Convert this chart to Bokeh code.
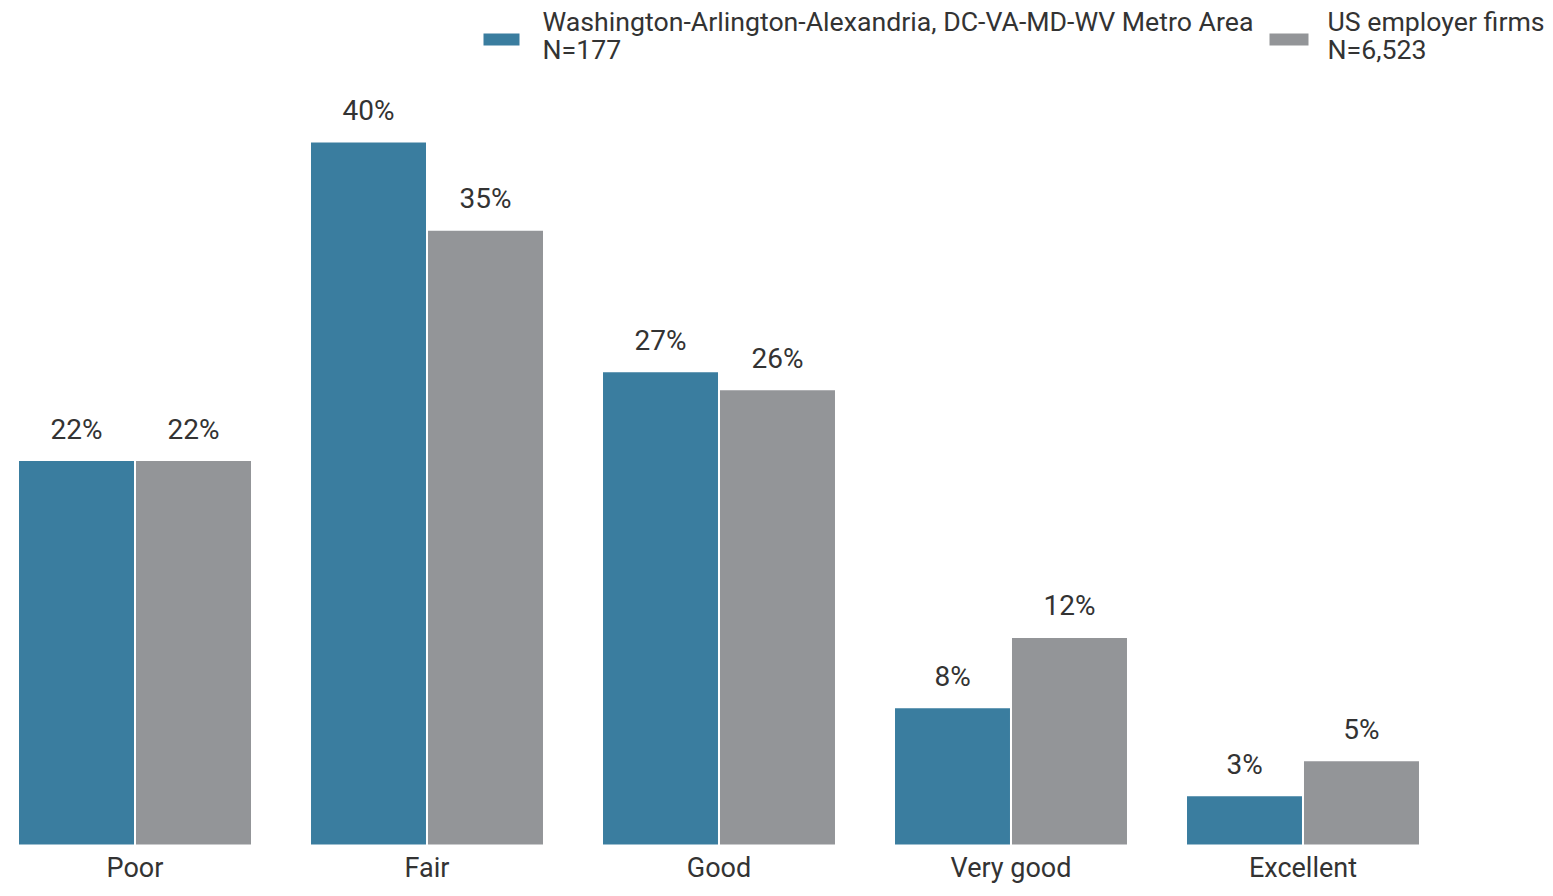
from bokeh.plotting import figure
from bokeh.models import Range1d, ColumnDataSource
from bokeh.core.properties import value
from bokeh.embed import file_html
from bokeh.resources import INLINE

categories = ["Poor", "Fair", "Good", "Very good", "Excellent"]
dc_values = [21.9, 40.0, 26.95, 7.86, 2.85]
us_values = [21.9, 34.99, 25.93, 11.85, 4.84]
series_names = ["Washington-Arlington-Alexandria, DC-VA-MD-WV Metro Area", "US employer firms"]
series_n = ["N=177", "N=6,523"]
colors = ["#3a7d9f", "#939598"]

FONT = "Roboto"
TXT = "#333333"
W, H = 1545, 888
CAT_PX = 292.0
Y_PX = 17.6
BASE = 845.0
x_start = -134.5 / CAT_PX

p = figure(width=W, height=H, output_backend="svg", toolbar_location=None,
           x_range=Range1d(x_start, x_start + W / CAT_PX),
           y_range=Range1d(-(H - BASE) / Y_PX, BASE / Y_PX),
           min_border=0, min_border_left=0, min_border_right=0,
           min_border_top=0, min_border_bottom=0)
p.axis.visible = False
p.grid.visible = False
p.outline_line_color = None
p.background_fill_color = "white"
p.border_fill_color = "white"

def dx(px):
    return x_start + px / CAT_PX

def dy(py):
    return (BASE - py) / Y_PX

xs = list(range(len(categories)))
off = 0.2003
bw = 117 / CAT_PX

src = ColumnDataSource(dict(
    x_dc=[x - off for x in xs], x_us=[x + off for x in xs],
    dc=dc_values, us=us_values,
    dc_lab=[f"{round(v)}%" for v in dc_values],
    us_lab=[f"{round(v)}%" for v in us_values],
    cx=xs, cat=categories, zero=[0] * len(xs)))

p.vbar(x="x_dc", top="dc", width=bw, bottom=0, source=src,
       fill_color=colors[0], line_color="white", line_width=2)
p.vbar(x="x_us", top="us", width=bw, bottom=0, source=src,
       fill_color=colors[1], line_color="white", line_width=2)

for xcol, ycol, lcol in [("x_dc", "dc", "dc_lab"), ("x_us", "us", "us_lab")]:
    p.text(x=xcol, y=ycol, text=lcol, source=src, y_offset=-31,
           text_align="center", text_baseline="middle",
           text_font=value(FONT), text_font_size="28px", text_color=TXT)

p.text(x="cx", y="zero", text="cat", source=src, y_offset=22,
       text_align="center", text_baseline="middle",
       text_font=value(FONT), text_font_size="27px", text_color=TXT)

# legend
leg = [(483, 519, 542), (1269, 1308, 1327)]
for i, (x0, x1, tx) in enumerate(leg):
    p.quad(left=[dx(x0)], right=[dx(x1)], top=[dy(33)], bottom=[dy(45)],
           fill_color=colors[i], line_color=None)
    p.text(x=[dx(tx)], y=[dy(21)], text=[series_names[i]],
           text_align="left", text_baseline="middle",
           text_font=value(FONT), text_font_size="26.7px", text_color=TXT)
    p.text(x=[dx(tx)], y=[dy(49)], text=[series_n[i]],
           text_align="left", text_baseline="middle",
           text_font=value(FONT), text_font_size="26.7px", text_color=TXT)

open("out.html", "w").write(file_html(p, INLINE))
